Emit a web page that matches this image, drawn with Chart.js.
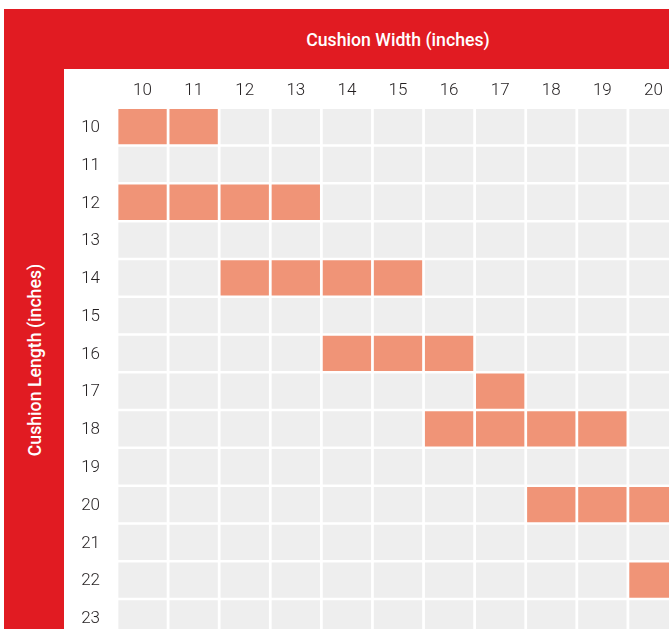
<!DOCTYPE html>
<html><head><meta charset="utf-8">
<script src="https://cdn.jsdelivr.net/npm/chart.js@4.4.1/dist/chart.umd.min.js"></script>
<style>
html,body{margin:0;padding:0;width:669px;height:629px;overflow:hidden;background:#fff;position:relative;}
.band{position:absolute;background:#E11B22;}
#bandTop{left:4px;top:9px;width:665px;height:60px;}
#bandLeft{left:4px;top:9px;width:60px;height:620px;}
.ttl{position:absolute;color:#fff;font-family:Roboto,sans-serif;font-weight:500;font-size:17.7px;white-space:nowrap;line-height:1;}
#ttlTop{left:398px;top:41px;transform:translate(-50%,-50%);}
#ttlLeft{left:36px;top:360px;transform:translate(-50%,-50%) rotate(-90deg);}
#wrap{position:absolute;left:64px;top:69px;width:615px;height:595px;}
canvas{display:block;}
</style></head>
<body>
<div class="band" id="bandTop"></div>
<div class="band" id="bandLeft"></div>
<div class="ttl" id="ttlTop">Cushion Width (inches)</div>
<div class="ttl" id="ttlLeft">Cushion Length (inches)</div>
<div id="wrap"><canvas id="c" width="615" height="595"></canvas></div>
<script>
// Axis categories
const cushionWidths = [10, 11, 12, 13, 14, 15, 16, 17, 18, 19, 20];
const cushionLengths = [10, 11, 12, 13, 14, 15, 16, 17, 18, 19, 20, 21, 22, 23];
// Highlighted (fitting) cells: paired length / width values
const fitLength = [10, 10, 12, 12, 12, 12, 14, 14, 14, 14, 16, 16, 16, 17, 18, 18, 18, 18, 20, 20, 20, 22];
const fitWidth  = [10, 11, 10, 11, 12, 13, 12, 13, 14, 15, 14, 15, 16, 17, 16, 17, 18, 19, 18, 19, 20, 20];

const FIT_COLOR = '#F09477';
const EMPTY_COLOR = '#EEEEEE';
const TEXT_COLOR = '#231F20';

function isFit(len, w) {
  for (let i = 0; i < fitLength.length; i++) {
    if (fitLength[i] === len && fitWidth[i] === w) return true;
  }
  return false;
}

const datasets = cushionLengths.map(len => ({
  label: 'Length ' + len,
  data: cushionWidths.map(() => [len - 0.467, len + 0.467]),
  backgroundColor: cushionWidths.map(w => isFit(len, w) ? FIT_COLOR : EMPTY_COLOR),
  borderWidth: 0,
  grouped: false,
  barPercentage: 1,
  categoryPercentage: 0.946
}));

new Chart(document.getElementById('c'), {
  type: 'bar',
  data: { labels: cushionWidths.map(String), datasets },
  options: {
    responsive: false,
    animation: false,
    devicePixelRatio: 1,
    layout: { padding: 0 },
    plugins: { legend: { display: false }, tooltip: { enabled: false }, title: { display: false } },
    scales: {
      x: {
        type: 'category',
        position: 'top',
        offset: true,
        grid: { display: false, drawTicks: false, tickLength: 0 },
        border: { display: false },
        ticks: { color: TEXT_COLOR, font: { family: 'Roboto', weight: '300', size: 17 }, padding: 7.3, maxRotation: 0, autoSkip: false },
        afterFit: s => { s.height = 38.8; }
      },
      y: {
        type: 'linear',
        reverse: true,
        min: 9.5,
        max: 23.5,
        grid: { display: false, drawTicks: false, tickLength: 0 },
        border: { display: false },
        afterBuildTicks: s => { s.ticks = cushionLengths.map(v => ({ value: v })); },
        ticks: { color: TEXT_COLOR, font: { family: 'Roboto', weight: '300', size: 17 }, padding: 17, labelOffset: 1, crossAlign: 'center', autoSkip: false },
        afterFit: s => { s.width = 53; }
      }
    }
  }
});
</script>
</body></html>
